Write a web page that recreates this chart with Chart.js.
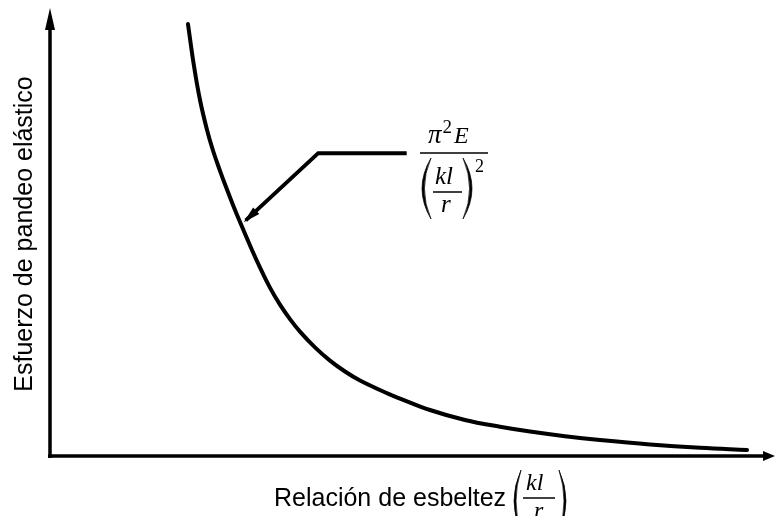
<!DOCTYPE html>
<html>
<head>
<meta charset="utf-8">
<script src="https://cdn.jsdelivr.net/npm/chart.js@4/dist/chart.umd.min.js"></script>
<style>
  body { margin: 0; background: #fff; }
</style>
</head>
<body>
<canvas id="eulerChart" width="775" height="516"></canvas>
<script>
// curva de Euler (escala 0-100 en ambos ejes)
var slenderness = [19.03, 19.86, 20.69, 21.66, 22.48, 23.45, 24.28, 25.24, 26.21, 27.86,
    28.97, 30.34, 31.72, 33.10, 34.48, 36.55, 38.62, 40.69, 42.76, 46.62,
    48.28, 52.41, 57.24, 62.07, 66.21, 71.03, 75.86, 82.76, 89.66, 96.14];
var stress = [96.43, 87.05, 79.46, 72.77, 68.19, 63.66, 60.04, 56.05, 52.23, 45.98,
    42.05, 37.59, 33.79, 30.56, 27.77, 24.24, 21.29, 18.86, 16.85, 13.91,
    12.83, 10.27, 8.04, 6.52, 5.45, 4.42, 3.57, 2.57, 1.83, 1.36];

// linea de referencia hacia la formula
var leaderX = [49.2, 37.0, 27.0];
var leaderY = [67.6, 67.6, 52.6];

var xLabel = 'Relación de esbeltez';
var yLabel = 'Esfuerzo de pandeo elástico';

var sans = '"Liberation Sans", Arial, sans-serif';
var serif = '"Liberation Serif", "DejaVu Serif", serif';

function toPoints(xs, ys) {
    return xs.map(function (x, i) { return { x: x, y: ys[i] }; });
}

function arrowHead(ctx, tx, ty, fx, fy, len, half) {
    var a = Math.atan2(ty - fy, tx - fx);
    ctx.beginPath();
    ctx.moveTo(tx, ty);
    ctx.lineTo(tx - len * Math.cos(a) + half * Math.sin(a), ty - len * Math.sin(a) - half * Math.cos(a));
    ctx.lineTo(tx - len * Math.cos(a) - half * Math.sin(a), ty - len * Math.sin(a) + half * Math.cos(a));
    ctx.closePath();
    ctx.fill();
}

// parentesis tipo ecuacion: belly = x de la panza, ends = x de las puntas
function paren(ctx, belly, ends, top, bottom, thick) {
    var mid = (top + bottom) / 2;
    var dir = belly < ends ? 1 : -1;
    ctx.beginPath();
    ctx.moveTo(ends, top);
    ctx.quadraticCurveTo(2 * belly - ends, mid, ends, bottom);
    ctx.quadraticCurveTo(2 * (belly + dir * thick) - ends, mid, ends, top);
    ctx.closePath();
    ctx.fill();
    ctx.lineWidth = 0.7;
    ctx.stroke();
}

// escribe y devuelve el ancho
function txt(ctx, s, font, x, y) {
    ctx.font = font;
    ctx.textAlign = 'left';
    ctx.textBaseline = 'alphabetic';
    ctx.fillText(s, x, y);
    return ctx.measureText(s).width;
}

function hline(ctx, x1, x2, y, w) {
    ctx.beginPath();
    ctx.lineWidth = w;
    ctx.moveTo(x1, y);
    ctx.lineTo(x2, y);
    ctx.stroke();
}

var decor = {
    id: 'decor',
    afterDraw: function (chart) {
        var ctx = chart.ctx;
        var xs = chart.scales.x, ys = chart.scales.y;
        var x0 = xs.getPixelForValue(0), y0 = ys.getPixelForValue(0);
        ctx.save();
        ctx.fillStyle = '#000';
        ctx.strokeStyle = '#000';

        // ejes con flechas
        ctx.lineWidth = 3.5;
        ctx.beginPath();
        ctx.moveTo(x0, y0 + 2);
        ctx.lineTo(x0, chart.chartArea.top + 14);
        ctx.moveTo(x0 - 2, y0);
        ctx.lineTo(chart.chartArea.right - 8, y0);
        ctx.stroke();
        arrowHead(ctx, x0, chart.chartArea.top, x0, y0, 22, 5);
        arrowHead(ctx, chart.chartArea.right, y0, x0, y0, 12, 5);

        // punta de flecha de la linea de referencia
        var n = leaderX.length;
        arrowHead(ctx,
            xs.getPixelForValue(leaderX[n - 1]) - 2, ys.getPixelForValue(leaderY[n - 1]) + 2,
            xs.getPixelForValue(leaderX[n - 2]), ys.getPixelForValue(leaderY[n - 2]), 17, 4.5);

        // titulos de ejes
        txt(ctx, xLabel, '25px ' + sans, 274, 506);
        ctx.save();
        ctx.translate(32, 234);
        ctx.rotate(-Math.PI / 2);
        ctx.font = '25px ' + sans;
        ctx.textAlign = 'center';
        ctx.textBaseline = 'alphabetic';
        ctx.fillText(yLabel, 0, 0);
        ctx.restore();

        // (kl/r) del eje x
        paren(ctx, 514, 521, 470, 532, 2);
        paren(ctx, 566, 559, 470, 532, 2);
        txt(ctx, 'kl', 'italic 24px ' + serif, 526, 490);
        hline(ctx, 523, 555, 498, 1.5);
        txt(ctx, 'r', 'italic 24px ' + serif, 534, 518);

        // formula pi^2 E / (kl/r)^2
        var px = 428;
        px += txt(ctx, 'π', 'italic 27px ' + serif, px, 143) + 1;
        px += txt(ctx, '2', '19px ' + serif, px, 133) + 2;
        txt(ctx, 'E', 'italic 24px ' + serif, px, 143);
        hline(ctx, 420, 488, 153, 1.5);
        paren(ctx, 422, 431, 158, 219, 2.4);
        paren(ctx, 472, 463, 158, 219, 2.4);
        txt(ctx, 'kl', 'italic 25px ' + serif, 435, 184);
        hline(ctx, 433, 462, 192, 1.5);
        txt(ctx, 'r', 'italic 25px ' + serif, 441, 212);
        txt(ctx, '2', '18px ' + serif, 475, 172);

        ctx.restore();
    }
};

var ctx = document.getElementById('eulerChart').getContext('2d');
var myChart = new Chart(ctx, {
    type: 'scatter',
    data: {
        datasets: [{
            label: 'Euler',
            data: toPoints(slenderness, stress),
            showLine: true,
            borderColor: '#000',
            borderWidth: 4,
            tension: 0.4,
            pointRadius: 0,
            borderCapStyle: 'round'
        }, {
            label: 'leader',
            data: toPoints(leaderX, leaderY),
            showLine: true,
            borderColor: '#000',
            borderWidth: 4,
            tension: 0,
            pointRadius: 0
        }]
    },
    options: {
        responsive: false,
        animation: false,
        layout: {
            padding: { left: 50, right: 0, top: 8, bottom: 60 }
        },
        plugins: {
            legend: { display: false },
            tooltip: { enabled: false }
        },
        scales: {
            x: { type: 'linear', min: 0, max: 100, display: false },
            y: { type: 'linear', min: 0, max: 100, display: false }
        }
    },
    plugins: [decor]
});
</script>
</body>
</html>
